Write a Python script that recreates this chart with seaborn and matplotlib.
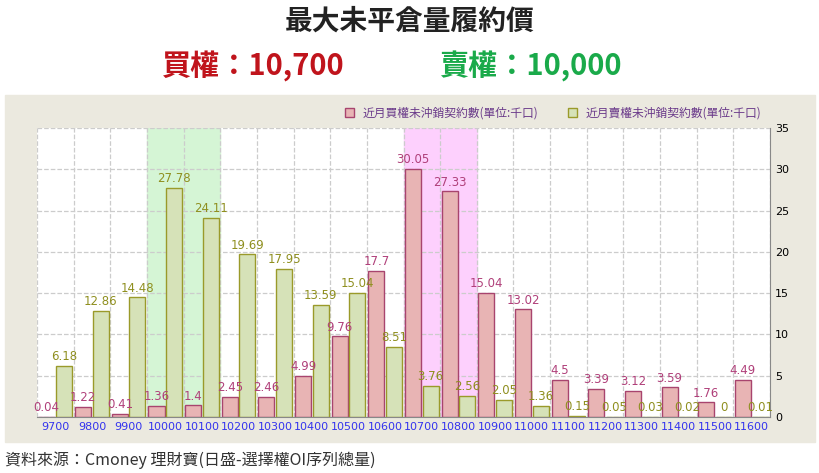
import pandas as pd
import numpy as np
import matplotlib
matplotlib.use("Agg")
import matplotlib.pyplot as plt
import seaborn as sns
from matplotlib import font_manager
from matplotlib.patches import Rectangle

# pick whatever CJK family is registered
cjk = [f.name for f in font_manager.fontManager.ttflist if "CJK" in f.name]
cjk_name = next((n for n in cjk if "TC" in n), cjk[0] if cjk else "DejaVu Sans")
plt.rcParams["font.family"] = "sans-serif"
plt.rcParams["font.sans-serif"] = [cjk_name, "DejaVu Sans"]

strikes = [9700, 9800, 9900, 10000, 10100, 10200, 10300, 10400, 10500, 10600,
           10700, 10800, 10900, 11000, 11100, 11200, 11300, 11400, 11500, 11600]
calls = [0.04, 1.22, 0.41, 1.36, 1.4, 2.45, 2.46, 4.99, 9.76, 17.7,
         30.05, 27.33, 15.04, 13.02, 4.5, 3.39, 3.12, 3.59, 1.76, 4.49]
puts = [6.18, 12.86, 14.48, 27.78, 24.11, 19.69, 17.95, 13.59, 15.04, 8.51,
        3.76, 2.56, 2.05, 1.36, 0.15, 0.05, 0.03, 0.02, 0, 0.01]
call_name = "近月買權未沖銷契約數(單位:千口)"
put_name = "近月賣權未沖銷契約數(單位:千口)"

df = pd.DataFrame({
    "strike": [str(s) for s in strikes] * 2,
    "oi": calls + puts,
    "series": [call_name] * len(strikes) + [put_name] * len(strikes),
})

fig = plt.figure(figsize=(8.2, 4.73), dpi=100)
# grey panel behind chart
fig.patches.append(Rectangle((5 / 820, 1 - 442 / 473), 810 / 820, 347 / 473,
                             transform=fig.transFigure, color="#ebe9df", zorder=-5))
ax = fig.add_axes([37 / 820, 1 - 417 / 473, 733 / 820, 289 / 473])
ax.set_zorder(1)
ax.set_facecolor("white")

# highlight bands
ax.axvspan(2.5, 4.5, color="#d5f5d5", zorder=0)
ax.axvspan(9.5, 11.5, color="#fdd0fd", zorder=0)

sns.barplot(data=df, x="strike", y="oi", hue="series", ax=ax, saturation=1,
            palette=["#e8b4b4", "#d6e2b8"], width=0.92, zorder=2)
edges = ["#a8446e", "#9a9a2a"]
tcols = ["#b0407a", "#8f8f1f"]
for i, cont in enumerate(ax.containers):
    for j, b in enumerate(cont):
        b.set_edgecolor(edges[i])
        b.set_linewidth(1.0)
        b.set_width(0.44)
        b.set_x(j - 0.46 + i * 0.48)
    ax.bar_label(cont, labels=[f"{v:g}" for v in cont.datavalues],
                 color=tcols[i], fontsize=8.5, padding=2, family="DejaVu Sans")

ax.set_xlim(-0.5, len(strikes) - 0.5)
ax.set_ylim(0, 35)
ax.yaxis.tick_right()
ax.set_yticks(range(0, 36, 5))
ax.tick_params(axis="y", length=0, labelsize=8)
ax.tick_params(axis="x", length=0, labelsize=8, labelcolor="#3333ee")
for lab in ax.get_xticklabels() + ax.get_yticklabels():
    lab.set_family("DejaVu Sans")
ax.set_xlabel("")
ax.set_ylabel("")
ax.yaxis.grid(True, ls="--", color="#cccccc", lw=0.9)
ax.set_xticks(np.arange(-0.5, len(strikes), 1), minor=True)
ax.tick_params(axis="x", which="minor", length=0)
ax.xaxis.grid(True, which="minor", ls="--", color="#cccccc", lw=0.9)
ax.set_axisbelow(True)
for s in ["top", "left"]:
    ax.spines[s].set_visible(False)
ax.spines["right"].set_color("#888888")
ax.spines["bottom"].set_color("#888888")

leg = ax.legend(loc="lower right", bbox_to_anchor=(1.0, 1.0), ncol=2, frameon=False,
                fontsize=8.5, labelcolor="#6a3a8a", handlelength=0.7, handleheight=0.7,
                columnspacing=2.5, borderaxespad=0.3)
for h, ec in zip(leg.legend_handles, edges):
    h.set_edgecolor(ec)
    h.set_linewidth(1.0)

fig.text(0.5, 1 - 22 / 473, "最大未平倉量履約價", ha="center", va="center",
         fontsize=20, fontweight="bold", color="#222222")
fig.text(0.42, 1 - 66 / 473, "買權：10,700", ha="right", va="center",
         fontsize=21, fontweight="bold", color="#c0141c")
fig.text(0.535, 1 - 66 / 473, "賣權：10,000", ha="left", va="center",
         fontsize=21, fontweight="bold", color="#1aaa4a")
fig.text(5 / 820, 1 - 460 / 473, "資料來源：Cmoney 理財寶(日盛-選擇權OI序列總量)",
         ha="left", va="center", fontsize=11.5, color="#333333")

fig.savefig("out.png", dpi=100)
